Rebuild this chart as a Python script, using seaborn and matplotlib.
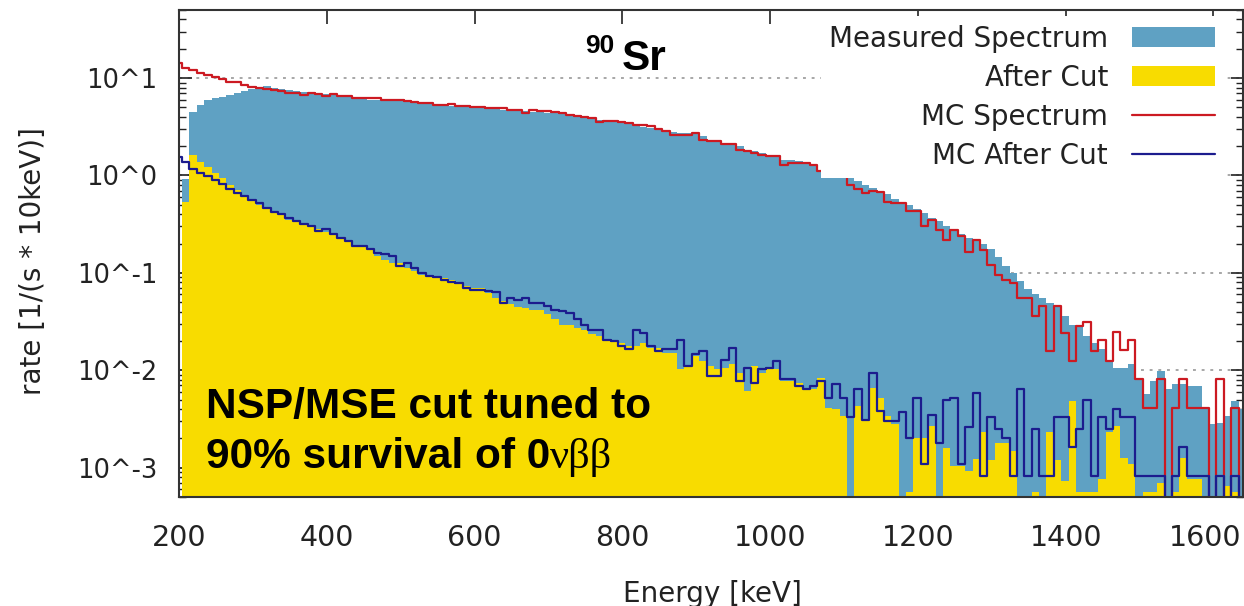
import numpy as np
import pandas as pd
import matplotlib
matplotlib.use("Agg")
import matplotlib.pyplot as plt
import matplotlib.transforms as mtrans
import seaborn as sns
from matplotlib.ticker import LogLocator, NullFormatter
from matplotlib.patches import Patch
from matplotlib.lines import Line2D

# ---------------- data (rate per 10 keV bin, bins start at 194 keV) ----------------
bin_start = 194
bin_width = 10

mc_spectrum = [
    14.4, 12.6, 12.1, 11.2, 10.8, 10.2, 9.7, 9.2, 9.2, 8.4,
    8.1, 7.9, 7.7, 7.5, 7.3, 7.0, 7.0, 6.7, 7.1, 6.85,
    6.6, 6.85, 6.5, 6.5, 6.2, 6.2, 6.2, 6.3, 6.0, 6.0,
    6.0, 5.75, 5.65, 5.55, 5.55, 5.3, 5.3, 5.45, 5.2, 5.2,
    5.1, 5.1, 4.9, 4.9, 4.9, 4.75, 4.75, 4.4, 4.75, 4.55,
    4.55, 4.5, 4.35, 4.2, 4.05, 4.0, 3.85, 3.5, 3.65, 3.6,
    3.55, 3.45, 3.3, 3.3, 3.2, 3.0, 2.85, 2.62, 2.62, 2.62,
    2.72, 2.33, 2.24, 2.24, 2.12, 2.12, 1.84, 1.77, 1.70, 1.63,
    1.57, 1.57, 1.29, 1.34, 1.34, 1.34, 1.29, 1.10, 1.02, 0.98,
    0.98, 0.805, 0.73, 0.66, 0.70, 0.67, 0.54, 0.52, 0.52, 0.435,
    0.435, 0.305, 0.35, 0.274, 0.219, 0.274, 0.241, 0.163, 0.219, 0.173,
    0.12, 0.096, 0.085, 0.079, 0.055, 0.055, 0.036, 0.0455, 0.0157, 0.0455,
    0.0243, 0.0124, 0.0284, 0.0312, 0.0157, 0.0204, 0.0124, 0.0246, 0.0161, 0.0204,
    0.0081, 0.0041, 0.0041, 0.0081, 0.0, 0.0041, 0.0081, 0.0041, 0.0041, 0.0041,
    0.0, 0.0081, 0.0, 0.0041, 0.0,
]

measured = [
    0.0, 0.92, 4.5, 5.3, 5.97, 6.2, 6.46, 6.7, 7.0, 7.3,
    7.7, 7.98, 8.2, 7.9, 7.75, 7.6, 7.3, 7.15, 7.0, 6.9,
    6.8, 6.7, 6.55, 6.4, 6.15, 6.05, 6.0, 6.0, 5.9, 5.8,
    5.8, 5.7, 5.6, 5.5, 5.4, 5.3, 5.3, 5.2, 5.1, 5.05,
    5.0, 4.95, 4.85, 4.8, 4.7, 4.65, 4.6, 4.55, 4.5, 4.45,
    4.4, 4.35, 4.25, 4.15, 4.05, 3.95, 3.85, 3.75, 3.65, 3.55,
    3.45, 3.35, 3.28, 3.18, 3.1, 3.0, 2.9, 2.8, 2.75, 2.72,
    2.68, 2.52, 2.33, 2.24, 2.15, 2.1, 1.99, 1.84, 1.77, 1.70,
    1.63, 1.57, 1.45, 1.45, 1.40, 1.34, 1.24, 1.15, 1.10, 1.06,
    1.0, 0.95, 0.87, 0.80, 0.75, 0.69, 0.64, 0.58, 0.54, 0.50,
    0.45, 0.41, 0.37, 0.34, 0.30, 0.27, 0.25, 0.23, 0.215, 0.196,
    0.175, 0.145, 0.118, 0.100, 0.082, 0.068, 0.060, 0.0555, 0.049, 0.0455,
    0.036, 0.0295, 0.0284, 0.0224, 0.0192, 0.0164, 0.0129, 0.0106, 0.0106, 0.0115,
    0.0081, 0.0057, 0.0078, 0.0098, 0.0064, 0.0072, 0.0072, 0.0069, 0.0069, 0.0040,
    0.0028, 0.0029, 0.0034, 0.0048, 0.0040,
]

after_cut = [
    0.0, 0.53, 1.63, 1.38, 1.22, 1.06, 0.94, 0.80, 0.71, 0.61,
    0.56, 0.50, 0.48, 0.43, 0.40, 0.35, 0.34, 0.325, 0.30, 0.28,
    0.26, 0.25, 0.228, 0.215, 0.188, 0.188, 0.18, 0.148, 0.137, 0.127,
    0.127, 0.112, 0.104, 0.096, 0.092, 0.092, 0.089, 0.085, 0.079, 0.073,
    0.070, 0.070, 0.062, 0.055, 0.051, 0.048, 0.045, 0.044, 0.042, 0.042,
    0.0374, 0.0333, 0.0295, 0.0295, 0.0273, 0.0262, 0.0233, 0.0224, 0.0207, 0.0200,
    0.0192, 0.0177, 0.0177, 0.0192, 0.0170, 0.0170, 0.0151, 0.0151, 0.0102, 0.0110,
    0.0140, 0.0125, 0.0110, 0.0102, 0.0106, 0.0115, 0.0094, 0.0061, 0.0110, 0.0094,
    0.0102, 0.0102, 0.0078, 0.0078, 0.0074, 0.0064, 0.0064, 0.0084, 0.0041, 0.0040,
    0.0034, 0.0, 0.0043, 0.0031, 0.0066, 0.0052, 0.0034, 0.0028, 0.0, 0.00056,
    0.0020, 0.0020, 0.0027, 0.0, 0.0016, 0.00104, 0.00104, 0.00093, 0.00124, 0.0023,
    0.0012, 0.0018, 0.0018, 0.0015, 0.0, 0.0, 0.00056, 0.0, 0.0023, 0.0012,
    0.00073, 0.0048, 0.00056, 0.00056, 0.00056, 0.00076, 0.0023, 0.0027, 0.00127, 0.0011,
    0.0, 0.00056, 0.00056, 0.0007, 0.0, 0.00056, 0.00127, 0.00076, 0.00076, 0.0,
    0.0, 0.0, 0.00065, 0.00056, 0.0,
]

mc_after_cut = [
    1.55, 1.36, 1.16, 1.07, 0.99, 0.90, 0.82, 0.73, 0.66, 0.61,
    0.56, 0.52, 0.46, 0.42, 0.40, 0.37, 0.34, 0.32, 0.305, 0.27,
    0.28, 0.25, 0.23, 0.21, 0.19, 0.188, 0.176, 0.160, 0.155, 0.148,
    0.117, 0.127, 0.112, 0.100, 0.092, 0.090, 0.085, 0.080, 0.079, 0.070,
    0.0675, 0.0675, 0.065, 0.063, 0.049, 0.055, 0.053, 0.0555, 0.049, 0.049,
    0.0455, 0.042, 0.0405, 0.0389, 0.0333, 0.0295, 0.0262, 0.0262, 0.0207, 0.0200,
    0.0177, 0.0164, 0.0262, 0.0243, 0.0177, 0.0157, 0.0164, 0.0164, 0.0207, 0.0110,
    0.0146, 0.0157, 0.0087, 0.0087, 0.0129, 0.0170, 0.0078, 0.0106, 0.0074, 0.0102,
    0.0106, 0.0124, 0.0081, 0.0081, 0.0069, 0.0064, 0.0069, 0.0078, 0.0052, 0.0072,
    0.0052, 0.0033, 0.0065, 0.0031, 0.0094, 0.0038, 0.0030, 0.0030, 0.0037, 0.0020,
    0.0052, 0.0011, 0.0035, 0.0018, 0.0050, 0.0052, 0.0011, 0.0026, 0.0059, 0.00082,
    0.0033, 0.0025, 0.0020, 0.00082, 0.0065, 0.00082, 0.0025, 0.00082, 0.00082, 0.0033,
    0.0033, 0.00164, 0.0025, 0.0049, 0.00082, 0.0033, 0.0025, 0.0040, 0.0033, 0.0033,
    0.00082, 0.00082, 0.00082, 0.00082, 0.0, 0.00082, 0.00164, 0.00082, 0.00082, 0.00082,
    0.0, 0.00082, 0.0, 0.00082, 0.0,
]

series_labels = ["Measured Spectrum", "After Cut", "MC Spectrum", "MC After Cut"]
x_ticks = [200, 400, 600, 800, 1000, 1200, 1400, 1600]
y_ticks = [1e-3, 1e-2, 1e-1, 1e0, 1e1]
y_tick_labels = ["10^-3", "10^-2", "10^-1", "10^0", "10^1"]

# ---------------- styling ----------------
C_MEAS = "#5fa1c3"
C_CUT = "#f8dc00"
C_MC = "#cc1a22"
C_MCCUT = "#1c1c8e"
C_TXT = "#222222"

sns.set_style("white")
plt.rcParams["font.family"] = ["DejaVu Sans"]

n = len(measured)
low = bin_start + bin_width * np.arange(n)
edges = [float(e) for e in np.append(low, low[-1] + bin_width)]
df = pd.DataFrame({
    "energy": low + bin_width / 2,
    "measured": measured,
    "after_cut": after_cut,
    "mc_spectrum": mc_spectrum,
    "mc_after_cut": mc_after_cut,
})

fig = plt.figure(figsize=(12.44, 6.06), dpi=100)
ax = fig.add_axes([179 / 1244, 109 / 606, 1064 / 1244, 487 / 606])

common = dict(data=df, x="energy", bins=edges, element="step", stat="count", ax=ax)
sns.histplot(weights="measured", fill=True, color=C_MEAS, alpha=1, linewidth=0, **common)
sns.histplot(weights="after_cut", fill=True, color=C_CUT, alpha=1, linewidth=0, **common)
sns.histplot(weights="mc_spectrum", fill=False, color=C_MC, linewidth=1.6, **common)
sns.histplot(weights="mc_after_cut", fill=False, color=C_MCCUT, linewidth=1.6, **common)

ax.set_yscale("log")
ax.set_xlim(200, 1640)
ax.set_ylim(5e-4, 50)

# dotted horizontal grid behind the data
for v in y_ticks:
    ax.axhline(v, color="#a0a0a0", linewidth=1.3, linestyle=(0, (1.6, 3.2)), zorder=0.5)

ax.set_xticks(x_ticks)
ax.set_xticklabels([str(t) for t in x_ticks])
ax.set_yticks(y_ticks)
ax.set_yticklabels(y_tick_labels)
ax.yaxis.set_minor_locator(LogLocator(base=10, subs=np.arange(2, 10)))
ax.yaxis.set_minor_formatter(NullFormatter())

ax.tick_params(axis="y", which="major", direction="in", left=True, right=True,
               length=9, width=1.2, labelsize=18.5, pad=15.8, colors=C_TXT,
               labelcolor=C_TXT)
ax.tick_params(axis="y", which="minor", direction="in", left=True, right=True,
               length=5, width=1.0, colors=C_TXT)
ax.tick_params(axis="x", which="major", direction="in", top=True, bottom=False,
               length=10, width=1.2, labelsize=20.5, pad=19.5, colors=C_TXT,
               labelcolor=C_TXT)

# keep the last x tick label inside the figure edge
last_tick = ax.xaxis.get_major_ticks()[-1]
last_tick.label1.set_transform(
    last_tick.label1.get_transform()
    + mtrans.ScaledTranslation(-0.08, 0, fig.dpi_scale_trans))

for s in ax.spines.values():
    s.set_color("#333333")
    s.set_linewidth(1.5)
    s.set_visible(True)

ax.set_xlabel("Energy [keV]", fontsize=20, color=C_TXT)
ax.set_ylabel("rate [1/(s * 10keV)]", fontsize=20, color=C_TXT)
ax.xaxis.set_label_coords(0.501, -0.170)
ax.yaxis.set_label_coords(-0.124, 0.485)

handles = [
    Patch(facecolor=C_MEAS, edgecolor="none"),
    Patch(facecolor=C_CUT, edgecolor="none"),
    Line2D([], [], color=C_MC, linewidth=1.6),
    Line2D([], [], color=C_MCCUT, linewidth=1.6),
]
leg = ax.legend(handles, series_labels, loc="upper right", bbox_to_anchor=(0.9815, 0.9873),
                markerfirst=False, fontsize=20, frameon=True, framealpha=1,
                edgecolor="none", facecolor="white", fancybox=False,
                handlelength=2.99, handleheight=0.72, handletextpad=0.86,
                labelspacing=0.40, borderpad=0.3, borderaxespad=0.0)
for t in leg.get_texts():
    t.set_color(C_TXT)

bold_font = ["Liberation Sans", "DejaVu Sans"]
ax.text(0.3816, 0.911, "90", transform=ax.transAxes, fontsize=19, fontweight="bold",
        family=bold_font, va="baseline", ha="left", color="black")
ax.text(0.416, 0.877, "Sr", transform=ax.transAxes, fontsize=30.5, fontweight="bold",
        family=bold_font, va="baseline", ha="left", color="black")
ax.text(0.0254, 0.1616, "NSP/MSE cut tuned to", transform=ax.transAxes, fontsize=30.5,
        fontweight="bold", family=bold_font, va="baseline", ha="left", color="black")
line2 = ax.text(0.0254, 0.0589, "90% survival of 0", transform=ax.transAxes,
                fontsize=30.5, fontweight="bold", family=bold_font, va="baseline",
                ha="left", color="black")
ax.annotate("\u03bd\u03b2\u03b2", xy=(1.0, 0.0), xycoords=line2, fontsize=30.5,
            family=["Liberation Serif", "DejaVu Serif"], va="bottom", ha="left",
            color="black", annotation_clip=False)

fig.savefig("out.png", dpi=100)
